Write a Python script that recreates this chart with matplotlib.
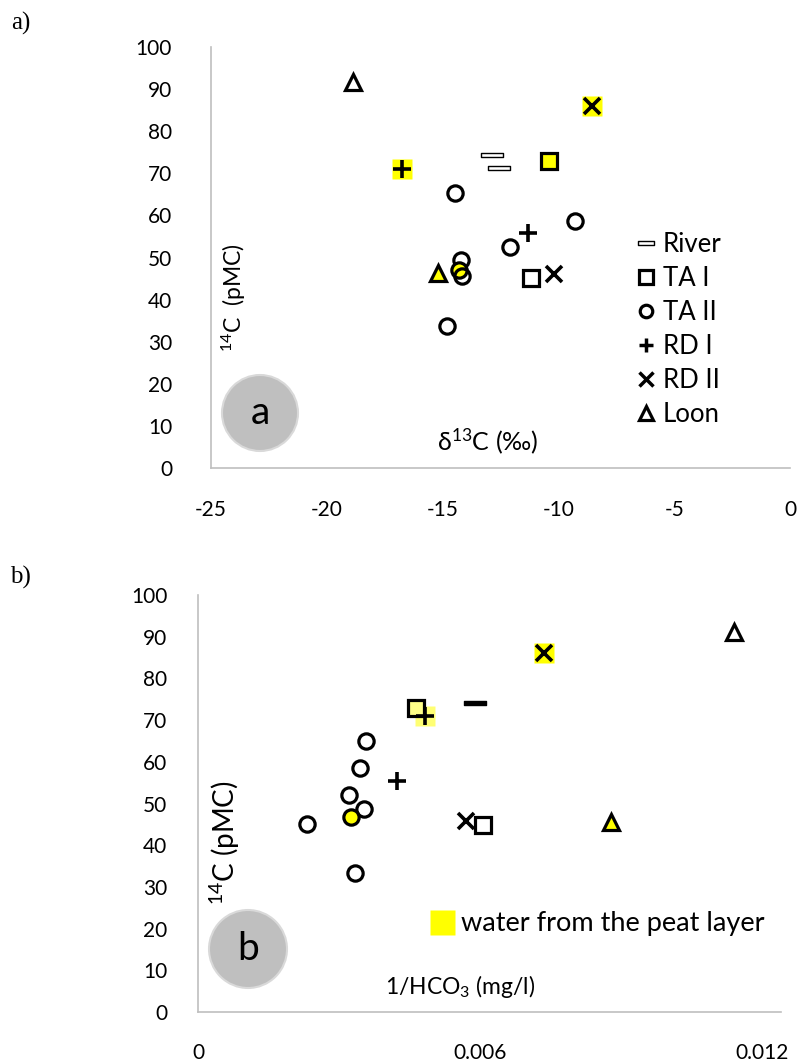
import matplotlib
matplotlib.use("Agg")
import matplotlib.pyplot as plt
from matplotlib.path import Path
from matplotlib.lines import Line2D
from matplotlib.patches import Circle

plt.rcParams['font.family'] = ['Lato', 'DejaVu Sans']
plt.rcParams['mathtext.default'] = 'regular'

# ---------------- data: panel a (d13C vs 14C) ----------------
river_a_x = [-12.85, -12.55]
river_a_y = [74.3, 71.3]
ta1_a_x = [-10.4, -11.2]
ta1_a_y = [73.0, 45.2]
ta1_a_peat = [1, 0]
ta2_a_x = [-14.45, -9.3, -12.1, -14.2, -14.3, -14.15, -14.8]
ta2_a_y = [65.4, 58.7, 52.4, 49.3, 47.1, 45.5, 33.7]
ta2_a_peat = [0, 0, 0, 0, 1, 0, 0]
rd1_a_x = [-16.75, -11.3]
rd1_a_y = [71.1, 55.8]
rd1_a_peat = [1, 0]
rd2_a_x = [-8.55, -10.2]
rd2_a_y = [86.0, 46.0]
rd2_a_peat = [1, 0]
loon_a_x = [-18.85, -15.2]
loon_a_y = [91.8, 46.2]
loon_a_peat = [0, 1]

# ---------------- data: panel b (1/HCO3 vs 14C) ----------------
river_b_x = [0.00589]
river_b_y = [74.0]
ta1_b_x = [0.00463, 0.00606]
ta1_b_y = [73.0, 44.8]
ta1_b_peat = [1, 0]
ta2_b_x = [0.00357, 0.00345, 0.00321, 0.00353, 0.00326, 0.00231, 0.00333]
ta2_b_y = [64.9, 58.4, 52.1, 48.8, 46.7, 45.1, 33.4]
ta2_b_peat = [0, 0, 0, 0, 1, 0, 0]
rd1_b_x = [0.00483, 0.00423]
rd1_b_y = [71.0, 55.5]
rd1_b_peat = [1, 0]
rd2_b_x = [0.00735, 0.00570]
rd2_b_y = [86.0, 45.7]
rd2_b_peat = [1, 0]
loon_b_x = [0.01140, 0.00878]
loon_b_y = [91.1, 45.5]
loon_b_peat = [0, 1]

series_names = ["River", "TA I", "TA II", "RD I", "RD II", "Loon"]
xticks_a = [-25, -20, -15, -10, -5, 0]
xticklabels_a = ["-25", "-20", "-15", "-10", "-5", "0"]
xticks_b = [0, 0.006, 0.012]
xticklabels_b = ["0", "0.006", "0.012"]
yticks = [0, 10, 20, 30, 40, 50, 60, 70, 80, 90, 100]

YEL = '#ffff00'
W, H = 797, 1064
FS = 15

dash_marker = Path([(-1, -0.2), (1, -0.2), (1, 0.2), (-1, 0.2), (-1, -0.2)],
                   [Path.MOVETO, Path.LINETO, Path.LINETO, Path.LINETO, Path.CLOSEPOLY])

fig = plt.figure(figsize=(W / 100, H / 100), dpi=100)
ax1 = fig.add_axes([211 / W, 1 - 468 / H, (790 - 211) / W, (468 - 47) / H])
ax2 = fig.add_axes([198 / W, 1 - 1012 / H, (781 - 198) / W, (1012 - 595) / H])


def style(ax, xlim, xticks, xlabels, padx, pady):
    ax.set_xlim(*xlim)
    ax.set_ylim(0, 100)
    for s in ['top', 'right']:
        ax.spines[s].set_visible(False)
    for s in ['left', 'bottom']:
        ax.spines[s].set_color('#bfbfbf')
        ax.spines[s].set_linewidth(1.2)
    ax.set_xticks(xticks)
    ax.set_xticklabels(xlabels)
    ax.set_yticks(yticks)
    ax.set_yticklabels([str(v) for v in yticks])
    ax.tick_params(axis='x', length=0, pad=padx, labelsize=FS, colors='black')
    ax.tick_params(axis='y', length=0, pad=pady, labelsize=FS, colors='black')
    ax.set_facecolor('none')


def draw(ax, river, ta1, ta2, rd1, rd2, loon, river_face, river_lw, pale):
    ms_bg = 13.7
    # yellow backgrounds for + and x markers
    for (xs, ys, pk), alpha in [(rd1, 0.55 if pale else 1.0), (rd2, 1.0)]:
        bx = [x for x, p in zip(xs, pk) if p]
        by = [y for y, p in zip(ys, pk) if p]
        ax.plot(bx, by, ls='none', marker='s', ms=ms_bg, mfc=YEL, mec='none', alpha=alpha, zorder=2)
    # River
    ax.plot(river[0], river[1], ls='none', marker=dash_marker, ms=16, mfc=river_face,
            mec='black', mew=river_lw, zorder=3)
    # TA I squares
    xs, ys, pk = ta1
    for x, y, p in zip(xs, ys, pk):
        ax.plot([x], [y], ls='none', marker='s', ms=11.5,
                mfc=(('#ffff88' if pale else YEL) if p else 'none'), mec='black', mew=2.3, zorder=3)
    # TA II circles
    xs, ys, pk = ta2
    for x, y, p in zip(xs, ys, pk):
        ax.plot([x], [y], ls='none', marker='o', ms=11,
                mfc=(YEL if p else 'none'), mec='black', mew=2.3, zorder=3)
    # RD I plus
    ax.plot(rd1[0], rd1[1], ls='none', marker='+', ms=12.5, mec='black', mew=2.6, zorder=4)
    # RD II x
    ax.plot(rd2[0], rd2[1], ls='none', marker='x', ms=11.5, mec='black', mew=2.6, zorder=4)
    # Loon triangles
    xs, ys, pk = loon
    for x, y, p in zip(xs, ys, pk):
        ax.plot([x], [y], ls='none', marker='^', ms=11.5,
                mfc=(YEL if p else 'none'), mec='black', mew=2.3, zorder=3)


style(ax1, (-25, 0), xticks_a, xticklabels_a, 23, 28)
style(ax2, (0, 0.0124), xticks_b, xticklabels_b, 22, 22)

draw(ax1, (river_a_x, river_a_y), (ta1_a_x, ta1_a_y, ta1_a_peat),
     (ta2_a_x, ta2_a_y, ta2_a_peat), (rd1_a_x, rd1_a_y, rd1_a_peat),
     (rd2_a_x, rd2_a_y, rd2_a_peat), (loon_a_x, loon_a_y, loon_a_peat),
     'white', 1.0, False)
draw(ax2, (river_b_x, river_b_y), (ta1_b_x, ta1_b_y, ta1_b_peat),
     (ta2_b_x, ta2_b_y, ta2_b_peat), (rd1_b_x, rd1_b_y, rd1_b_peat),
     (rd2_b_x, rd2_b_y, rd2_b_peat), (loon_b_x, loon_b_y, loon_b_peat),
     'black', 1.0, True)

# legend panel a
LFS = 18.5
handles = [
    Line2D([], [], ls='none', marker=dash_marker, ms=11, mfc='white', mec='black', mew=1.0),
    Line2D([], [], ls='none', marker='s', ms=9.5, mfc='none', mec='black', mew=2.3),
    Line2D([], [], ls='none', marker='o', ms=9, mfc='none', mec='black', mew=2.3),
    Line2D([], [], ls='none', marker='+', ms=10.5, mec='black', mew=2.5),
    Line2D([], [], ls='none', marker='x', ms=9.5, mec='black', mew=2.5),
    Line2D([], [], ls='none', marker='^', ms=9.5, mfc='none', mec='black', mew=2.3),
]
leg = ax1.legend(handles, series_names, loc='upper left', frameon=False, fontsize=LFS,
                 bbox_to_anchor=(636 / W, 1 - 232 / H), bbox_transform=fig.transFigure,
                 handlelength=0.75, handletextpad=0.3, labelspacing=0.35, borderpad=0,
                 borderaxespad=0)

# legend panel b
h2 = [Line2D([], [], ls='none', marker='s', ms=18, mfc=YEL, mec='none')]
ax2.legend(h2, ["water from the peat layer"], loc='upper left', frameon=False, fontsize=19.5,
           bbox_to_anchor=(431 / W, 1 - 911 / H), bbox_transform=fig.transFigure,
           handlelength=0.8, handletextpad=0.3, borderpad=0, borderaxespad=0)

# axis titles inside plot area
fig.text(234 / W, 1 - 298 / H, r'$^{14}$C  (pMC)', rotation=90, ha='center', va='center', fontsize=16.5)
fig.text(488 / W, 1 - 441 / H, r'δ$^{13}$C (‰)', ha='center', va='center', fontsize=18)
fig.text(225 / W, 1 - 843 / H, r'$^{14}$C (pMC)', rotation=90, ha='center', va='center', fontsize=20)
fig.text(460 / W, 1 - 986 / H, r'1/HCO$_3$ (mg/l)', ha='center', va='center', fontsize=16.5)

# grey circle badges
for (cx, cy, r, lab) in [(260, 413, 38, 'a'), (248, 949, 39, 'b')]:
    c = Circle((cx / 100, (H - cy) / 100), r / 100, transform=fig.dpi_scale_trans,
               facecolor='#bfbfbf', edgecolor='#d9d9d9', lw=1.5, zorder=5)
    fig.add_artist(c)
    fig.text(cx / W, 1 - cy / H, lab, ha='center', va='center', fontsize=28, zorder=6)

# panel labels
fig.text(21 / W, 1 - 23 / H, 'a)', ha='center', va='center', fontsize=18,
         family=['Liberation Serif', 'DejaVu Serif'])
fig.text(20 / W, 1 - 577 / H, 'b)', ha='center', va='center', fontsize=18,
         family=['Liberation Serif', 'DejaVu Serif'])

fig.savefig('out.png', dpi=100)
